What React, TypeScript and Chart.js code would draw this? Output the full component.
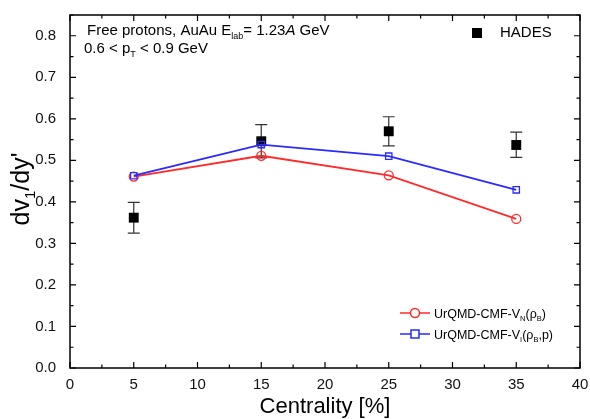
import React, { useEffect, useRef } from "react";
import { Chart, registerables } from "chart.js";

Chart.register(...registerables);

const centrality = [5, 15, 25, 35];
const hadesValues = [0.362, 0.546, 0.57, 0.537];
const hadesErrLow = [0.037, 0.04, 0.035, 0.03];
const hadesErrHigh = [0.037, 0.04, 0.035, 0.031];
const vnValues = [0.461, 0.511, 0.464, 0.359];
const viValues = [0.463, 0.538, 0.51, 0.429];
const xTicksMajor = [0, 5, 10, 15, 20, 25, 30, 35, 40];
const yTicksMajor = [0, 0.1, 0.2, 0.3, 0.4, 0.5, 0.6, 0.7, 0.8];

const FONT = "'Liberation Sans', Arial, sans-serif";

type Seg = { t: string; sub?: boolean; italic?: boolean };

function drawRich(ctx: CanvasRenderingContext2D, segs: Seg[], x: number, y: number, size: number, color: string) {
  let cx = x;
  ctx.fillStyle = color;
  ctx.textBaseline = "alphabetic";
  ctx.textAlign = "left";
  for (const s of segs) {
    const fs = s.sub ? size * 0.6 : size;
    ctx.font = `${s.italic ? "italic " : ""}${fs}px ${FONT}`;
    const dy = s.sub ? size * 0.25 : 0;
    ctx.fillText(s.t, cx, y + dy);
    cx += ctx.measureText(s.t).width;
  }
  return cx - x;
}

function measureRich(ctx: CanvasRenderingContext2D, segs: Seg[], size: number) {
  let w = 0;
  for (const s of segs) {
    const fs = s.sub ? size * 0.6 : size;
    ctx.font = `${s.italic ? "italic " : ""}${fs}px ${FONT}`;
    w += ctx.measureText(s.t).width;
  }
  return w;
}

const decorPlugin = {
  id: "decor",
  beforeDatasetsDraw(chart: any) {
    const ctx: CanvasRenderingContext2D = chart.ctx;
    const xs = chart.scales.x;
    const ys = chart.scales.y;
    ctx.save();
    ctx.strokeStyle = "#333";
    ctx.lineWidth = 1.2;
    for (let i = 0; i < centrality.length; i++) {
      const px = xs.getPixelForValue(centrality[i]);
      const top = ys.getPixelForValue(hadesValues[i] + hadesErrHigh[i]);
      const bot = ys.getPixelForValue(hadesValues[i] - hadesErrLow[i]);
      ctx.beginPath();
      ctx.moveTo(px, top);
      ctx.lineTo(px, bot);
      ctx.moveTo(px - 6, top);
      ctx.lineTo(px + 6, top);
      ctx.moveTo(px - 6, bot);
      ctx.lineTo(px + 6, bot);
      ctx.stroke();
    }
    ctx.restore();
  },
  afterDraw(chart: any) {
    const ctx: CanvasRenderingContext2D = chart.ctx;
    const xs = chart.scales.x;
    const ys = chart.scales.y;
    const a = chart.chartArea;
    ctx.save();
    ctx.strokeStyle = "#000";
    ctx.lineWidth = 1.5;
    ctx.strokeRect(a.left, a.top, a.right - a.left, a.bottom - a.top);
    ctx.lineWidth = 1.2;
    ctx.beginPath();
    for (let v = 0; v <= 40.001; v += 2.5) {
      const px = xs.getPixelForValue(v);
      const major = Math.abs(v / 5 - Math.round(v / 5)) < 1e-6;
      const len = major ? 6 : 3.5;
      ctx.moveTo(px, a.bottom);
      ctx.lineTo(px, a.bottom - len);
      ctx.moveTo(px, a.top);
      ctx.lineTo(px, a.top + len);
    }
    for (let v = 0; v <= 0.85001; v += 0.05) {
      const py = ys.getPixelForValue(v);
      const major = Math.abs(v / 0.1 - Math.round(v / 0.1)) < 1e-6;
      const len = major ? 6 : 3.5;
      ctx.moveTo(a.left, py);
      ctx.lineTo(a.left + len, py);
      ctx.moveTo(a.right, py);
      ctx.lineTo(a.right - len, py);
    }
    ctx.stroke();

    drawRich(ctx, [
      { t: "Free protons, AuAu E" },
      { t: "lab", sub: true },
      { t: "= 1.23" },
      { t: "A", italic: true },
      { t: " GeV" },
    ], a.left + 17, a.top + 20, 15, "#000");
    drawRich(ctx, [
      { t: "0.6 < p" },
      { t: "T", sub: true },
      { t: " < 0.9 GeV" },
    ], a.left + 14, a.top + 38, 15, "#000");

    ctx.fillStyle = "#000";
    ctx.fillRect(472, 28, 10, 10);
    ctx.font = `15px ${FONT}`;
    ctx.textBaseline = "middle";
    ctx.fillText("HADES", 500, 33);

    const items = [
      { color: "#ff2a2a", shape: "circle", y: 313, segs: [{ t: "UrQMD-CMF-V" }, { t: "N", sub: true }, { t: "(ρ" }, { t: "B", sub: true }, { t: ")" }] as Seg[] },
      { color: "#2a2aff", shape: "rect", y: 334, segs: [{ t: "UrQMD-CMF-V" }, { t: "I", sub: true }, { t: "(ρ" }, { t: "B", sub: true }, { t: ",p)" }] as Seg[] },
    ];
    for (const it of items) {
      ctx.strokeStyle = it.color;
      ctx.lineWidth = 1.5;
      ctx.beginPath();
      ctx.moveTo(400, it.y);
      ctx.lineTo(430, it.y);
      ctx.stroke();
      ctx.fillStyle = "#fff";
      ctx.beginPath();
      if (it.shape === "circle") {
        ctx.arc(415, it.y, 4.5, 0, Math.PI * 2);
      } else {
        ctx.rect(411, it.y - 4, 8, 8);
      }
      ctx.fill();
      ctx.stroke();
      drawRich(ctx, it.segs, 434, it.y + 4.5, 12.5, "#000");
    }

    ctx.fillStyle = "#000";
    ctx.font = `22px ${FONT}`;
    ctx.textAlign = "center";
    ctx.textBaseline = "alphabetic";
    ctx.fillText("Centrality [%]", (a.left + a.right) / 2, 413);

    const ytitle: Seg[] = [{ t: "dv" }, { t: "1", sub: true }, { t: "/dy'" }];
    const w = measureRich(ctx, ytitle, 25);
    ctx.translate(29, 189);
    ctx.rotate(-Math.PI / 2);
    drawRich(ctx, ytitle, -w / 2, 0, 25, "#000");
    ctx.restore();
  },
};

export default function App() {
  const ref = useRef<HTMLCanvasElement>(null);
  useEffect(() => {
    document.body.style.margin = "0";
    const canvas = ref.current!;
    const chart = new Chart(canvas, {
      type: "scatter",
      data: {
        datasets: [
          {
            label: "UrQMD-CMF-VI",
            data: centrality.map((x, i) => ({ x, y: viValues[i] })),
            showLine: true,
            borderColor: "#2a2aff",
            backgroundColor: "rgba(255,255,255,0)",
            borderWidth: 1.8,
            pointStyle: "rect",
            pointRadius: 4.5,
            pointBorderWidth: 1.3,
            order: 1,
          },
          {
            label: "UrQMD-CMF-VN",
            data: centrality.map((x, i) => ({ x, y: vnValues[i] })),
            showLine: true,
            borderColor: "#ff2a2a",
            backgroundColor: "rgba(255,255,255,0)",
            borderWidth: 1.8,
            pointStyle: "circle",
            pointRadius: 4.5,
            pointBorderWidth: 1.3,
            order: 2,
          },
          {
            label: "HADES",
            data: centrality.map((x, i) => ({ x, y: hadesValues[i] })),
            showLine: false,
            borderColor: "#000",
            backgroundColor: "#000",
            pointStyle: "rect",
            pointRadius: 7,
            pointBorderWidth: 0,
            order: 3,
          },
        ],
      },
      options: {
        animation: false,
        responsive: false,
        layout: { padding: { top: 6, right: 10, left: 0, bottom: 0 } },
        plugins: { legend: { display: false }, tooltip: { enabled: false } },
        scales: {
          x: {
            type: "linear",
            min: 0,
            max: 40,
            afterBuildTicks: (s: any) => { s.ticks = xTicksMajor.map((v) => ({ value: v })); },
            afterFit: (s: any) => { s.height = 51; },
            grid: { display: false },
            border: { display: false },
            ticks: { color: "#111", font: { family: FONT, size: 15 }, padding: 0, maxRotation: 0 },
          },
          y: {
            type: "linear",
            min: 0,
            max: 0.85,
            afterBuildTicks: (s: any) => { s.ticks = yTicksMajor.map((v) => ({ value: v })); },
            afterFit: (s: any) => { s.width = 70; },
            grid: { display: false },
            border: { display: false },
            ticks: { color: "#111", font: { family: FONT, size: 15 }, padding: 6, callback: (v: any) => Number(v).toFixed(1) },
          },
        },
      },
      plugins: [decorPlugin],
    });
    return () => chart.destroy();
  }, []);
  return <canvas ref={ref} width={590} height={419} style={{ display: "block" }} />;
}
